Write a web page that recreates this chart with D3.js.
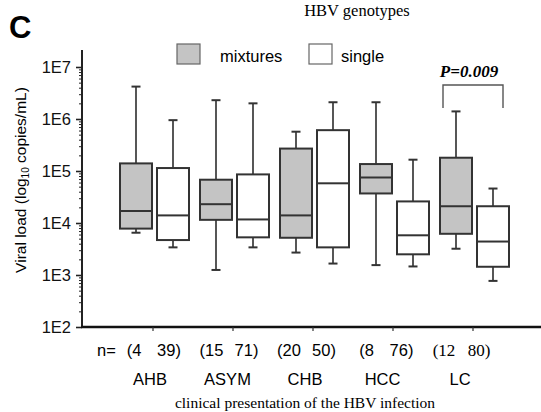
<!DOCTYPE html>
<html>
<head>
<meta charset="utf-8">
<script src="https://cdn.jsdelivr.net/npm/d3@7"></script>
<style>
  body { margin: 0; background: #fff; }
  svg { display: block; }
  .sans { font-family: Arial, "Liberation Sans", sans-serif; }
  .serif { font-family: "Times New Roman", "Liberation Serif", serif; }
</style>
</head>
<body>
<div id="chart"></div>
<script>
// chart data
const categories = ['AHB', 'ASYM', 'CHB', 'HCC', 'LC'];
const seriesNames = ['mixtures', 'single'];
const nMixtures = [4, 15, 20, 8, 12];
const nSingle = [39, 71, 50, 76, 80];
// [min, q1, median, q3, max] in copies/mL
const mixturesStats = [
  [6.5e3, 7.8e3, 1.7e4, 1.4e5, 4.2e6],
  [1.25e3, 1.15e4, 2.3e4, 6.8e4, 2.3e6],
  [2.7e3, 5.2e3, 1.4e4, 2.7e5, 5.7e5],
  [1.55e3, 3.7e4, 7.5e4, 1.36e5, 2.1e6],
  [3.2e3, 6.2e3, 2.1e4, 1.8e5, 1.4e6]
];
const singleStats = [
  [3.4e3, 4.7e3, 1.4e4, 1.14e5, 9.5e5],
  [3.4e3, 5.3e3, 1.17e4, 8.6e4, 2.0e6],
  [1.66e3, 3.4e3, 5.8e4, 6.1e5, 2.1e6],
  [1.46e3, 2.5e3, 5.8e3, 2.6e4, 1.65e5],
  [7.7e2, 1.44e3, 4.4e3, 2.1e4, 4.6e4]
];
const yTickValues = [1e2, 1e3, 1e4, 1e5, 1e6, 1e7];
const pValueLabel = 'P=0.009';

const width = 541, height = 412;
const fillColor = { mixtures: '#c4c4c4', single: '#ffffff' };
const strokeColor = '#333';

const svg = d3.select('#chart').append('svg')
  .attr('width', width)
  .attr('height', height);

// Scales
const x = d3.scaleBand().domain(categories).range([113, 513]);
const xSub = d3.scaleBand().domain(seriesNames).range([-33, 36]).paddingInner(5 / 37);
const y = d3.scaleLog().domain([1e2, 1e7]).range([327, 67]);

// Panel letter and top caption
svg.append('text').attr('class', 'sans')
  .attr('x', 9).attr('y', 38)
  .style('font-size', '31px').style('font-weight', 'bold')
  .text('C');

svg.append('text').attr('class', 'serif')
  .attr('x', 357).attr('y', 16)
  .attr('text-anchor', 'middle')
  .style('font-size', '16.5px')
  .text('HBV genotypes');

// Y axis: minor ticks first, then major ticks with labels
const minorTicks = [];
for (let e = 2; e < 7; e++) {
  for (let m = 2; m <= 9; m++) minorTicks.push(m * Math.pow(10, e));
}
svg.append('g')
  .attr('transform', 'translate(82,0)')
  .call(d3.axisLeft(y).tickValues(minorTicks).tickSize(3).tickFormat(''))
  .call(g => g.select('.domain').remove())
  .call(g => g.selectAll('line').attr('stroke', '#222').attr('stroke-width', 1));

const yAxis = svg.append('g')
  .attr('transform', 'translate(82,0)')
  .call(d3.axisLeft(y).tickValues(yTickValues).tickSize(6).tickPadding(5)
    .tickFormat(d => '1E' + Math.round(Math.log10(d))));
yAxis.select('.domain').remove();
yAxis.selectAll('line').attr('stroke', '#222').attr('stroke-width', 1.6);
yAxis.selectAll('text').attr('class', 'sans')
  .style('font-size', '16.5px').attr('fill', '#111');

svg.append('line')
  .attr('x1', 82).attr('x2', 82)
  .attr('y1', 50).attr('y2', y(1e2))
  .attr('stroke', '#222').attr('stroke-width', 2);

// X axis line with small ticks at each group
svg.append('line')
  .attr('x1', 81).attr('x2', 541)
  .attr('y1', y(1e2)).attr('y2', y(1e2))
  .attr('stroke', '#111').attr('stroke-width', 2.4);

svg.append('g').selectAll('line')
  .data(categories).join('line')
  .attr('x1', d => x(d) + x.bandwidth() / 2)
  .attr('x2', d => x(d) + x.bandwidth() / 2)
  .attr('y1', y(1e2)).attr('y2', y(1e2) + 4)
  .attr('stroke', '#333').attr('stroke-width', 1.2);

// Y axis title
svg.append('text').attr('class', 'sans')
  .attr('transform', 'translate(26,180) rotate(-90)')
  .attr('text-anchor', 'middle')
  .style('font-size', '15.5px')
  .call(t => {
    t.append('tspan').text('Viral load (log');
    t.append('tspan').attr('dy', 3).style('font-size', '10px').text('10');
    t.append('tspan').attr('dy', -3).text(' copies/mL)');
  });

// Boxes
const boxData = [];
categories.forEach((c, i) => {
  boxData.push({ cat: c, series: 'mixtures', s: mixturesStats[i] });
  boxData.push({ cat: c, series: 'single', s: singleStats[i] });
});

const boxes = svg.append('g').selectAll('g')
  .data(boxData).join('g')
  .attr('transform', d => `translate(${x(d.cat) + x.bandwidth() / 2 + xSub(d.series)},0)`);

const bw = xSub.bandwidth();
const capW = 9;

boxes.append('line')
  .attr('x1', bw / 2).attr('x2', bw / 2)
  .attr('y1', d => y(d.s[4])).attr('y2', d => y(d.s[3]))
  .attr('stroke', '#444').attr('stroke-width', 1.8);
boxes.append('line')
  .attr('x1', bw / 2).attr('x2', bw / 2)
  .attr('y1', d => y(d.s[1])).attr('y2', d => y(d.s[0]))
  .attr('stroke', '#444').attr('stroke-width', 1.8);
boxes.append('line')
  .attr('x1', bw / 2 - capW / 2).attr('x2', bw / 2 + capW / 2)
  .attr('y1', d => y(d.s[4])).attr('y2', d => y(d.s[4]))
  .attr('stroke', '#333').attr('stroke-width', 2);
boxes.append('line')
  .attr('x1', bw / 2 - capW / 2).attr('x2', bw / 2 + capW / 2)
  .attr('y1', d => y(d.s[0])).attr('y2', d => y(d.s[0]))
  .attr('stroke', '#333').attr('stroke-width', 2);
boxes.append('rect')
  .attr('x', 0).attr('width', bw)
  .attr('y', d => y(d.s[3]))
  .attr('height', d => y(d.s[1]) - y(d.s[3]))
  .attr('fill', d => fillColor[d.series])
  .attr('stroke', strokeColor).attr('stroke-width', 2);
boxes.append('line')
  .attr('x1', 0).attr('x2', bw)
  .attr('y1', d => y(d.s[2])).attr('y2', d => y(d.s[2]))
  .attr('stroke', strokeColor).attr('stroke-width', 2);

// Legend
const legend = svg.append('g');
const legendItems = [
  { name: 'mixtures', x: 177, tx: 220 },
  { name: 'single', x: 309, tx: 341 }
];
legend.selectAll('rect').data(legendItems).join('rect')
  .attr('x', d => d.x).attr('y', 44)
  .attr('width', 23).attr('height', 20)
  .attr('fill', d => fillColor[d.name])
  .attr('stroke', '#666').attr('stroke-width', 1.2);
legend.selectAll('text').data(legendItems).join('text')
  .attr('class', 'sans')
  .attr('x', d => d.tx).attr('y', 62)
  .style('font-size', '16.5px')
  .text(d => d.name);

// Significance bracket over LC
const lcCenter = x('LC') + x.bandwidth() / 2;
svg.append('path')
  .attr('d', `M${lcCenter - 30},108 V85 H${lcCenter + 30} V108`)
  .attr('fill', 'none').attr('stroke', '#555').attr('stroke-width', 1.4);
svg.append('text').attr('class', 'serif')
  .attr('x', lcCenter - 4).attr('y', 77)
  .attr('text-anchor', 'middle')
  .style('font-size', '17px').style('font-weight', 'bold').style('font-style', 'italic')
  .text(pValueLabel);

// Bottom labels: sample sizes, category names, axis title
const xLab = d3.scalePoint().domain(categories).range([150, 460]);

svg.append('text').attr('class', 'sans')
  .attr('x', 97).attr('y', 356)
  .style('font-size', '16.5px')
  .text('n=');

const nRow = svg.append('g');
categories.forEach((c, i) => {
  const cls = c === 'LC' ? 'serif' : 'sans';
  nRow.append('text').attr('class', cls)
    .attr('x', xLab(c) - 16).attr('y', 356)
    .attr('text-anchor', 'middle')
    .style('font-size', c === 'LC' ? '17px' : '16.5px')
    .text('(' + nMixtures[i]);
  nRow.append('text').attr('class', cls)
    .attr('x', xLab(c) + 19).attr('y', 356)
    .attr('text-anchor', 'middle')
    .style('font-size', c === 'LC' ? '17px' : '16.5px')
    .text(nSingle[i] + ')');
});

svg.append('g').selectAll('text')
  .data(categories).join('text')
  .attr('class', 'sans')
  .attr('x', d => xLab(d)).attr('y', 385)
  .attr('text-anchor', 'middle')
  .style('font-size', '16.5px')
  .text(d => d);

svg.append('text').attr('class', 'serif')
  .attr('x', 305).attr('y', 408)
  .attr('text-anchor', 'middle')
  .style('font-size', '15.5px')
  .text('clinical presentation of the HBV infection');
</script>
</body>
</html>
